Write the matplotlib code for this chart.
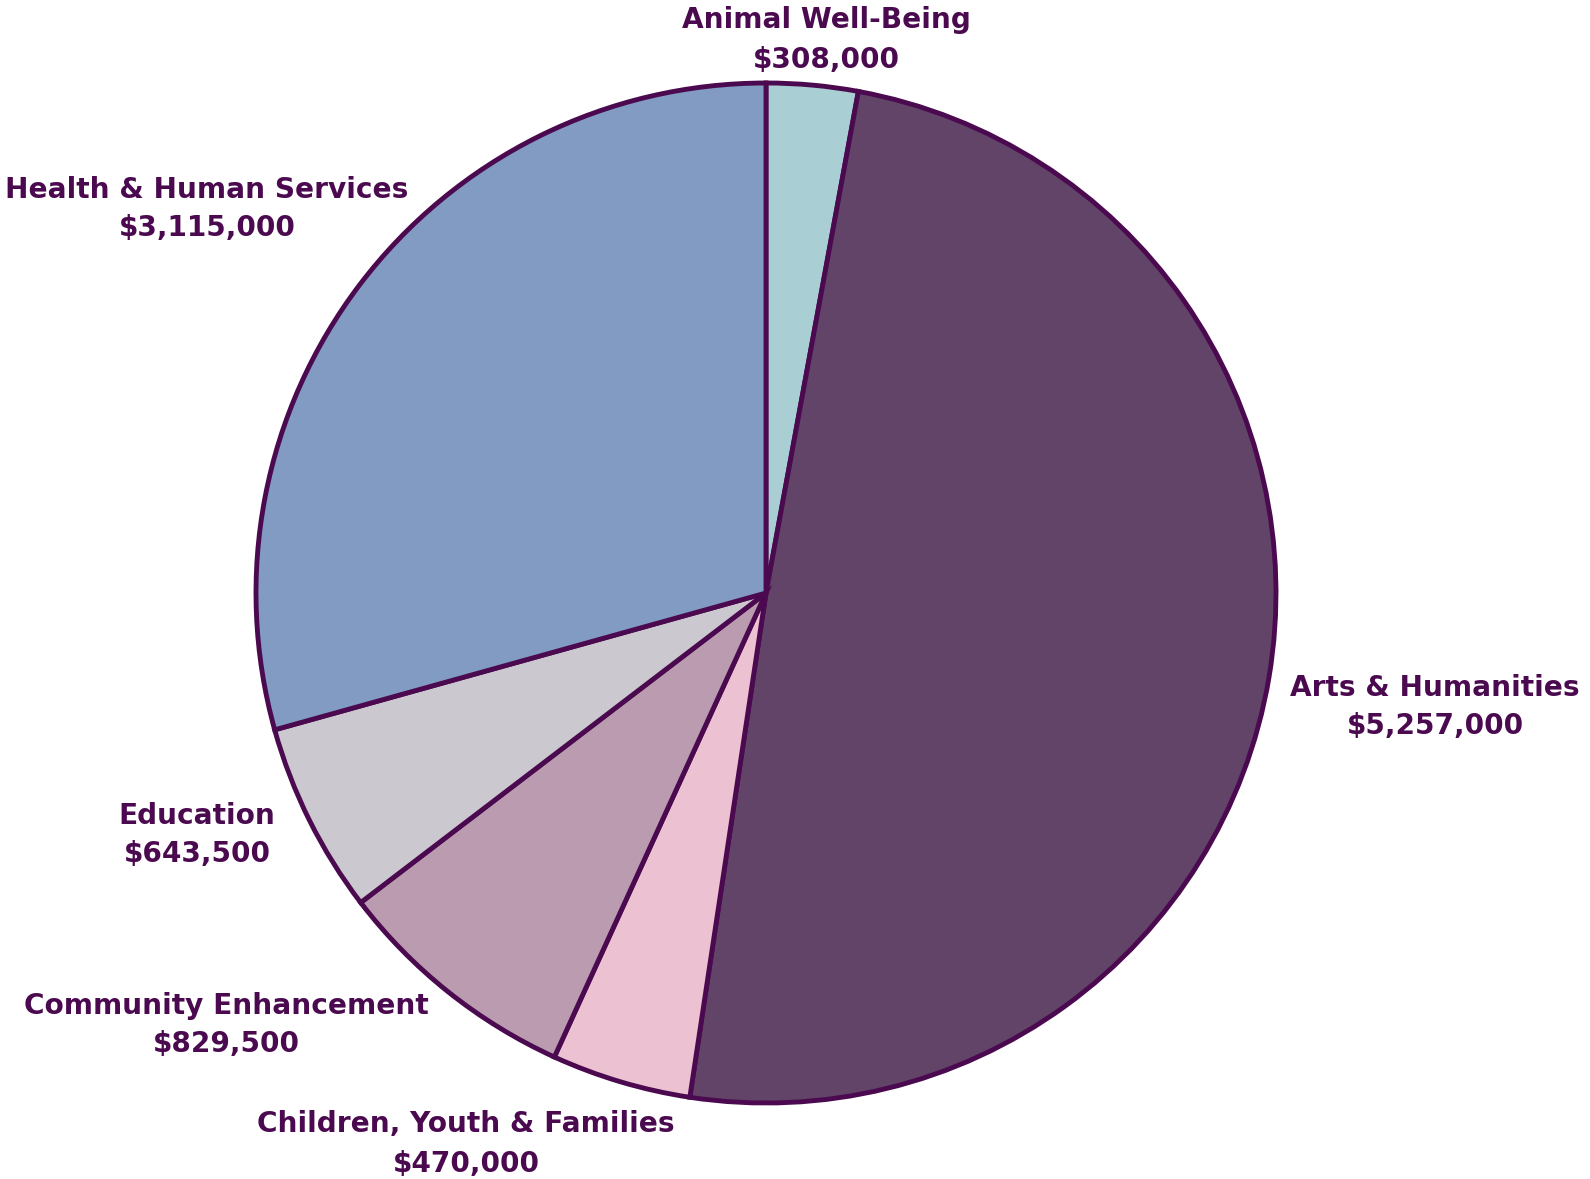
import matplotlib
matplotlib.use("Agg")
import matplotlib.pyplot as plt

categories = ["Animal Well-Being", "Arts & Humanities", "Children, Youth & Families",
              "Community Enhancement", "Education", "Health & Human Services"]
values = [308000, 5257000, 470000, 829500, 643500, 3115000]
colors = ["#a9ced4", "#634469", "#ecc1d2", "#ba9bb0", "#cbc9cf", "#829bc2"]
edge = "#4b0a4f"

W, H = 1590, 1179
fig = plt.figure(figsize=(W / 100, H / 100), dpi=100)
cx, cy, r = 766, 593, 510
ax = fig.add_axes([(cx - r) / W, (H - cy - r) / H, 2 * r / W, 2 * r / H])
ax.pie(values, colors=colors, startangle=90, counterclock=False, radius=1,
       wedgeprops=dict(edgecolor=edge, linewidth=3.5, joinstyle="miter"))
ax.set_xlim(-1, 1)
ax.set_ylim(-1, 1)
ax.set_aspect("equal")
ax.axis("off")

# label centres in pixel coordinates (x, y of the two-line block centre)
label_pos = [(826, 40), (1435, 707), (466, 1144), (226, 1025), (197, 835), (207, 209)]
for name, v, (px, py) in zip(categories, values, label_pos):
    fig.text(px / W, 1 - py / H, f"{name}\n${v:,.0f}", ha="center", va="center",
             fontsize=20.2, fontweight="bold", color=edge, linespacing=1.5,
             family="DejaVu Sans")

fig.savefig("out.png", dpi=100)
